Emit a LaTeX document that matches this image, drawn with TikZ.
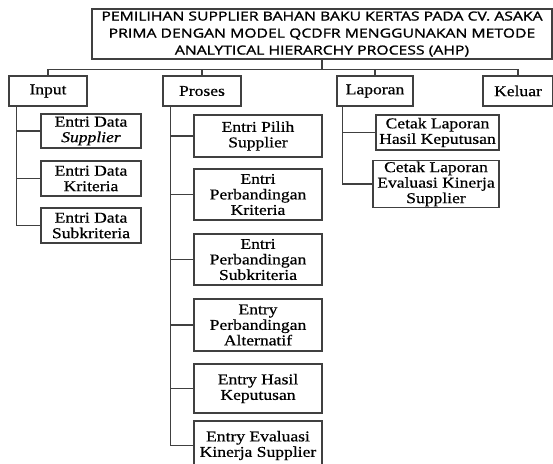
\documentclass[tikz,border=0pt]{standalone}
\usepackage{fontspec}
\setmainfont[FakeStretch=1.17, FakeBold=0.6]{Liberation Serif}
\newfontfamily\titlefont[FakeStretch=1.26, FakeBold=1.4]{Open Sans}
\usetikzlibrary{positioning}

\tikzset{
  box/.style={draw, rectangle, align=center, inner sep=1pt,
    font=\fontsize{15}{15.5}\selectfont},
  titlebox/.style={box, minimum width=460pt, minimum height=50pt,
    font=\titlefont\fontsize{12.5}{17}\selectfont},
  menu/.style={box, minimum height=30pt},
}

\begin{document}
\begin{tikzpicture}[x=1pt, y=-1pt, line width=1.1pt, draw=black!75]
\useasboundingbox (0, 0) rectangle (553, 463);

\node[titlebox] (title) at (322, 34) {PEMILIHAN SUPPLIER BAHAN BAKU KERTAS PADA CV. ASAKA\\PRIMA DENGAN MODEL QCDFR MENGGUNAKAN METODE\\ANALYTICAL HIERARCHY PROCESS (AHP)};

\node[menu, minimum width=78pt] (input) at (48, 91) {Input};
\node[menu, minimum width=78pt] (proses) at (202, 91) {Proses};
\node[menu, minimum width=76pt] (laporan) at (375, 91) {Laporan};
\node[menu, minimum width=70pt] (keluar) at (518, 91) {Keluar};
\path[draw] (title.south) -- ++(0, 10) -| (input.north);
\path[draw] (title.south) -- ++(0, 10) -| (proses.north);
\path[draw] (title.south) -- ++(0, 10) -| (laporan.north);
\path[draw] (title.south) -- ++(0, 10) -| (keluar.north);

% input
\node[box, minimum width=100pt, minimum height=34pt] (dsup) at (91, 131) {Entri Data\\\textit{Supplier}};
\node[box, minimum width=100pt, minimum height=35pt] (dkri) at (91, 178.5) {Entri Data\\Kriteria};
\node[box, minimum width=100pt, minimum height=35pt] (dsub) at (91, 225.5) {Entri Data\\Subkriteria};
\path[draw] ([xshift=8pt]input.south west) |- (dsup.west);
\path[draw] ([xshift=8pt]input.south west) |- (dkri.west);
\path[draw] ([xshift=8pt]input.south west) |- (dsub.west);

% proses
\node[box, minimum width=128pt, minimum height=42pt] (ppil) at (258, 136) {Entri Pilih\\Supplier};
\node[box, minimum width=128pt, minimum height=51pt] (pkri) at (258, 194.5) {Entri\\Perbandingan\\Kriteria};
\node[box, minimum width=128pt, minimum height=51pt] (psub) at (258, 259.5) {Entri\\Perbandingan\\Subkriteria};
\node[box, minimum width=128pt, minimum height=52pt] (palt) at (258, 325) {Entry\\Perbandingan\\Alternatif};
\node[box, minimum width=128pt, minimum height=49pt] (phas) at (258, 388.5) {Entry Hasil\\Keputusan};
\node[box, minimum width=128pt, minimum height=49pt] (peva) at (258, 445.5) {Entry Evaluasi\\Kinerja Supplier};
\path[draw] ([xshift=8pt]proses.south west) |- (ppil.west);
\path[draw] ([xshift=8pt]proses.south west) |- (pkri.west);
\path[draw] ([xshift=8pt]proses.south west) |- (psub.west);
\path[draw] ([xshift=8pt]proses.south west) |- (palt.west);
\path[draw] ([xshift=8pt]proses.south west) |- (phas.west);
\path[draw] ([xshift=8pt]proses.south west) |- (peva.west);

% laporan
\node[box, minimum width=123pt, minimum height=35pt] (lhas) at (437.5, 132.5) {Cetak Laporan\\Hasil Keputusan};
\node[box, minimum width=126pt, minimum height=44pt] (leva) at (436, 184) {Cetak Laporan\\Evaluasi Kinerja\\Supplier};
\path[draw] ([xshift=6pt]laporan.south west) |- (lhas.west);
\path[draw] ([xshift=6pt]laporan.south west) |- (leva.west);

\end{tikzpicture}
\end{document}
